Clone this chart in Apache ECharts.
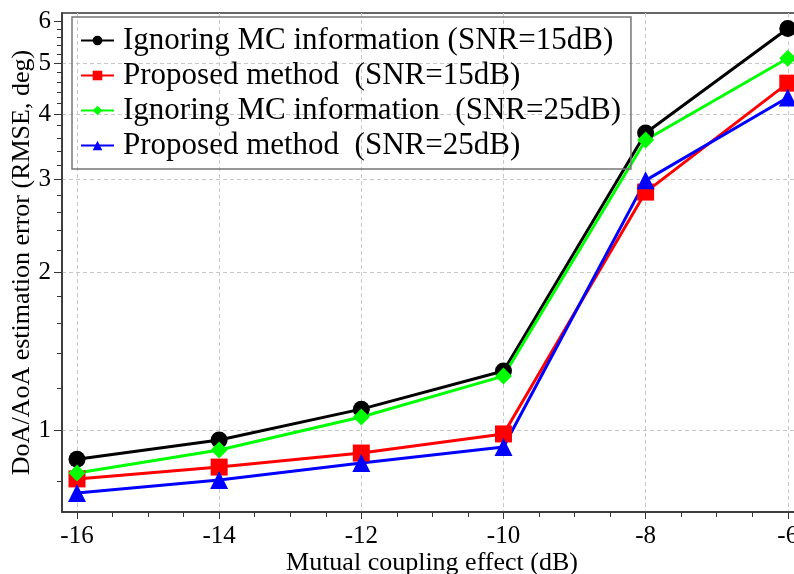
<!DOCTYPE html>
<html>
<head>
<meta charset="utf-8">
<script src="https://cdn.jsdelivr.net/npm/echarts@6/dist/echarts.min.js"></script>
<style>
  html, body { margin: 0; padding: 0; background: #fff; }
  #main { width: 794px; height: 574px; }
</style>
</head>
<body>
<div id="main"></div>
<script>
var myChart = echarts.init(document.getElementById('main'));

// x: mutual coupling level (dB)
var couplingDb = [-16, -14, -12, -10, -8, -6];
// RMSE (deg)
var ignoreMc15 = [0.88, 0.957, 1.096, 1.296, 3.68, 5.82];
var proposed15 = [0.807, 0.85, 0.904, 0.983, 2.84, 4.58];
var ignoreMc25 = [0.828, 0.916, 1.059, 1.267, 3.57, 5.11];
var proposed25 = [0.759, 0.803, 0.865, 0.928, 2.99, 4.30];

var seriesNames = [
    'Ignoring MC information (SNR=15dB)',
    'Proposed method  (SNR=15dB)',
    'Ignoring MC information  (SNR=25dB)',
    'Proposed method  (SNR=25dB)'
];

// tick values
var xMajorTicks = [-16, -14, -12, -10, -8, -6];
var xMinorTicks = [-15.5, -15, -14.5, -13.5, -13, -12.5, -11.5, -11, -10.5,
    -9.5, -9, -8.5, -7.5, -7, -6.5];
var yMajorTicks = [1, 2, 3, 4, 5, 6];
var yGridTicks = [1, 2, 3, 4, 5];
var yMinorTicks = [0.8, 1.2, 1.4, 1.6, 1.8, 2.2, 2.4, 2.6, 2.8, 3.2, 3.4, 3.6, 3.8,
    4.2, 4.4, 4.6, 4.8, 5.2, 5.4, 5.6, 5.8];

var serif = 'Liberation Serif';
var axisColor = '#333';

function pairs(ys) {
    return couplingDb.map(function (x, i) { return [x, ys[i]]; });
}

function lineSeries(name, ys, color, symbol, size) {
    return {
        name: name,
        type: 'line',
        data: pairs(ys),
        symbol: symbol,
        symbolSize: size,
        clip: false,
        lineStyle: { color: color, width: 3 },
        itemStyle: { color: color },
        emphasis: { disabled: true }
    };
}

var xMin = -16.211, xMax = -5.8;
var yMin = 0.698, yMax = 6.23;

myChart.setOption({
    animation: false,
    grid: {
        left: 62, top: 13, width: 740, height: 499,
        outerBoundsMode: 'none', containLabel: false,
        show: true, borderColor: axisColor, borderWidth: 1.5
    },
    legend: {
        orient: 'vertical',
        left: 72, top: 17,
        padding: [8, 10, 8, 8],
        itemWidth: 33, itemHeight: 12,
        itemGap: 4,
        borderColor: '#777', borderWidth: 1.5,
        textStyle: { fontFamily: serif, fontSize: 31, lineHeight: 31, color: '#000', padding: [0, 0, 0, 4] },
        data: seriesNames
    },
    xAxis: [{
        type: 'value', min: xMin, max: xMax,
        name: 'Mutual coupling effect (dB)', nameLocation: 'middle', nameGap: 38,
        nameMoveOverlap: false,
        nameTextStyle: { fontFamily: serif, fontSize: 26, lineHeight: 26, color: '#000' },
        axisLine: { lineStyle: { color: axisColor, width: 1.5 } },
        axisTick: { customValues: xMajorTicks, length: 7, lineStyle: { color: axisColor } },
        axisLabel: { customValues: xMajorTicks, margin: 12, fontFamily: serif, fontSize: 25, color: '#000' },
        splitLine: { show: true, lineStyle: { color: '#c8c8c8', type: [4, 3], width: 1 } }
    }, {
        type: 'value', min: xMin, max: xMax, position: 'bottom',
        axisLine: { show: false },
        axisTick: { customValues: xMinorTicks, length: 5, lineStyle: { color: axisColor } },
        axisLabel: { show: false },
        splitLine: { show: false }
    }],
    yAxis: [{
        type: 'log', logBase: 10, min: yMin, max: yMax,
        name: 'DoA/AoA estimation error (RMSE, deg)', nameLocation: 'middle', nameGap: 27,
        nameMoveOverlap: false,
        nameTextStyle: { fontFamily: serif, fontSize: 26, lineHeight: 26, color: '#000' },
        axisLine: { show: true, lineStyle: { color: axisColor, width: 1.5 } },
        axisTick: { customValues: yMajorTicks, length: 8, lineStyle: { color: axisColor } },
        axisLabel: { customValues: yMajorTicks, margin: 11, fontFamily: serif, fontSize: 25, color: '#000' },
        splitLine: { show: false }
    }, {
        type: 'log', logBase: 10, min: yMin, max: yMax, position: 'left',
        axisLine: { show: false },
        axisTick: { customValues: yMinorTicks, length: 5, lineStyle: { color: axisColor } },
        axisLabel: { show: false },
        splitLine: { show: false }
    }, {
        type: 'log', logBase: 10, min: yMin, max: yMax, position: 'left',
        axisLine: { show: false },
        axisTick: { show: false, customValues: yGridTicks },
        axisLabel: { show: false },
        splitLine: { show: true, lineStyle: { color: '#c8c8c8', type: [4, 3], width: 1 } }
    }],
    series: [
        lineSeries(seriesNames[0], ignoreMc15, '#000000', 'circle', 17),
        lineSeries(seriesNames[1], proposed15, '#ff0000', 'rect', 17),
        lineSeries(seriesNames[2], ignoreMc25, '#00ff00', 'diamond', 17),
        lineSeries(seriesNames[3], proposed25, '#0000ff', 'triangle', 18)
    ]
});
</script>
</body>
</html>
